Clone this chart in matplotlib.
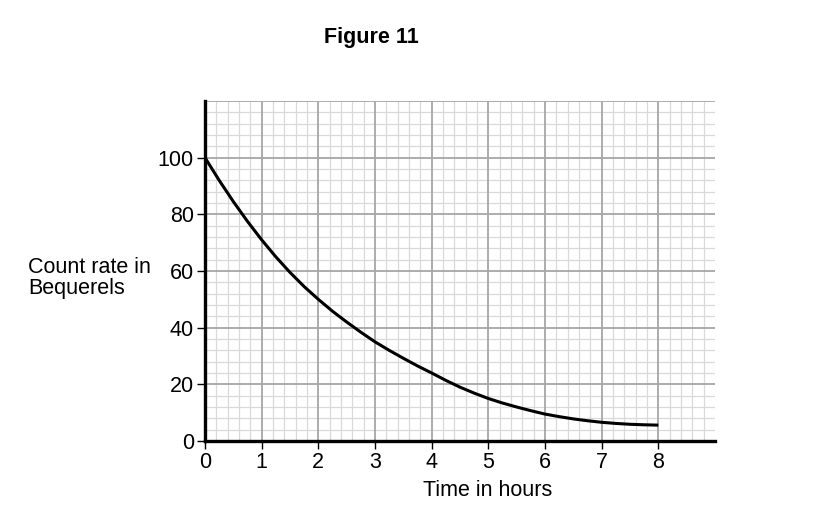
import matplotlib
matplotlib.use("Agg")
import matplotlib.pyplot as plt
import numpy as np

plt.rcParams['font.family'] = ['Liberation Sans', 'DejaVu Sans']

# Data
time_hours = [0, 0.25, 0.5, 0.75, 1, 1.25, 1.5, 1.75, 2, 2.25, 2.5, 2.75, 3,
              3.25, 3.5, 3.75, 4, 4.25, 4.5, 4.75, 5, 5.25, 5.5, 5.75, 6,
              6.25, 6.5, 6.75, 7, 7.25, 7.5, 7.75, 8]
count_rate = [100, 92, 84.5, 77.5, 71, 65, 59.5, 54.5, 50, 45.8, 42, 38.4, 35,
              32, 29.2, 26.5, 24, 21.4, 19, 16.9, 15, 13.4, 12, 10.7, 9.5,
              8.6, 7.8, 7.15, 6.6, 6.2, 5.9, 5.72, 5.6]
x_ticks = [0, 1, 2, 3, 4, 5, 6, 7, 8]
y_ticks = [0, 20, 40, 60, 80, 100]

fig = plt.figure(figsize=(8.38, 5.32), dpi=100)
ax = fig.add_axes([205/838, 1-441/532, 510/838, 340/532])

ax.set_xlim(0, 9)
ax.set_ylim(0, 120)

# Grid
for x in np.arange(0, 9.0001, 0.2):
    if abs(x - round(x)) < 1e-6:
        if round(x) in (0, 9):
            continue
        ax.axvline(x, color='#a6a6a6', lw=1.3, zorder=1)
    else:
        ax.axvline(x, color='#d9d9d9', lw=0.9, zorder=0)
for y in np.arange(0, 120.0001, 4):
    if abs(y % 20) < 1e-6:
        if y == 0:
            continue
        ax.axhline(y, color='#a6a6a6', lw=1.3, zorder=1)
    else:
        ax.axhline(y, color='#d9d9d9', lw=0.9, zorder=0)

ax.plot(time_hours, count_rate, color='black', lw=2.2, zorder=3,
        solid_capstyle='butt', solid_joinstyle='round')

ax.set_xticks(x_ticks)
ax.set_yticks(y_ticks)
ax.tick_params(axis='both', direction='out', length=6, width=1, color='black',
               labelsize=15.5, pad=2)

for s in ['top', 'right']:
    ax.spines[s].set_visible(False)
for s in ['left', 'bottom']:
    ax.spines[s].set_linewidth(2.4)
    ax.spines[s].set_color('black')
    ax.spines[s].set_zorder(4)

fig.text(371/838, 1-37/532, 'Figure 11', ha='center', va='center',
         fontsize=15.5, fontweight='bold')
fig.text(28/838, 1-278/532, 'Count rate in\nBequerels', ha='left', va='center',
         fontsize=15.5, linespacing=1.05)
fig.text(488/838, 1-490/532, 'Time in hours', ha='center', va='center',
         fontsize=15.5)

fig.savefig('out.png', dpi=100)
